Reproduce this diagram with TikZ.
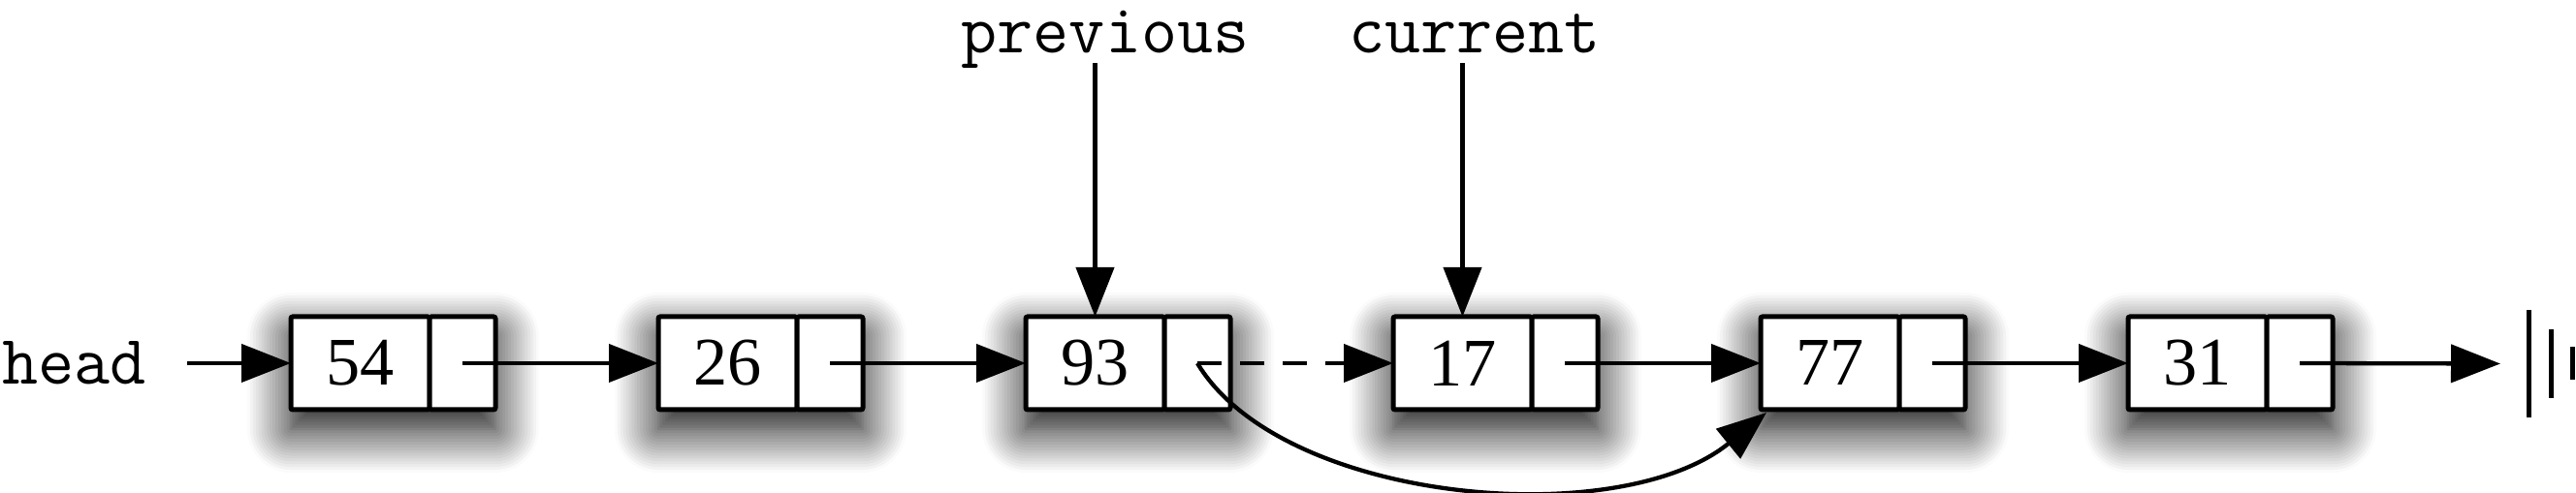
\documentclass[tikz,border=0pt]{standalone}
\usepackage{fontspec}
\setmainfont{Liberation Serif}
\usetikzlibrary{positioning,arrows.meta,shadows.blur}

\begin{document}
\begin{tikzpicture} [line width=0.043cm, >={Triangle[length=0.51cm, width=0.39cm, fill=black]},
     data/.style={draw, line width=0.05cm, fill=white, rounded corners=0.02cm, minimum width=1.43cm, minimum height=0.96cm, inner sep=0pt, outer sep=0pt, font=\fontsize{20}{24}\selectfont},
     ptr/.style={data, minimum width=0.68cm},
     varlbl/.style={inner sep=0pt, text depth=0.08cm, font=\ttfamily\fontsize{20.5}{24}\selectfont},
     boxshadow/.style={fill=white, blur shadow={shadow xshift=0cm, shadow yshift=-0.2cm, shadow blur radius=0.45cm, shadow blur steps=16, shadow opacity=100}}]
     \useasboundingbox (0,0) rectangle (26.57,5.09);

     % ノード
     \foreach \v [count=\i] in {54,26,93,17,77,31}{
       \path[boxshadow] ({3.00+(\i-1)*3.79},0.86) rectangle ++(2.11,0.96);
       \node[data, anchor=south west] (n\i) at ({3.00+(\i-1)*3.79},0.86) {\v};
       \node[ptr, right=0pt of n\i] (p\i) {};
     }

     % 名前
     \node[varlbl, anchor=base west] (head) at (0.0,1.12) {head};
     \node[varlbl, anchor=base] (prev) at (11.40,4.54) {previous};
     \node[varlbl, anchor=base] (curr) at (15.21,4.54) {current};

     % 矢印
     \draw[->, shorten <=0.40cm] (head.east |- n1.west) -- (n1.west);
     \draw[->] (prev.south -| n3.north) -- (n3.north);
     \draw[->] (curr.south -| n4.north) -- (n4.north);
     \foreach \i/\j in {1/2,2/3,4/5,5/6}{
       \draw[->] (p\i.center) -- (n\j.west);
     }
     \draw[->, dash pattern=on 0.25cm off 0.19cm] (p3.center) -- (n4.west);
     \draw[->] (p3.center) .. controls +(0.87,-1.45) and +(-1.52,-1.24) .. ([xshift=0.06cm, yshift=-0.03cm]n5.south west);

     % 終端
     \coordinate (nil) at (25.79,1.335);
     \draw[->] (p6.center) -- (nil);
     \foreach \x/\h in {26.08/0.555, 26.31/0.355, 26.53/0.17}{
       \draw[line width=0.05cm] (\x,1.335-\h) -- (\x,1.335+\h);
     }
\end{tikzpicture}
\end{document}
